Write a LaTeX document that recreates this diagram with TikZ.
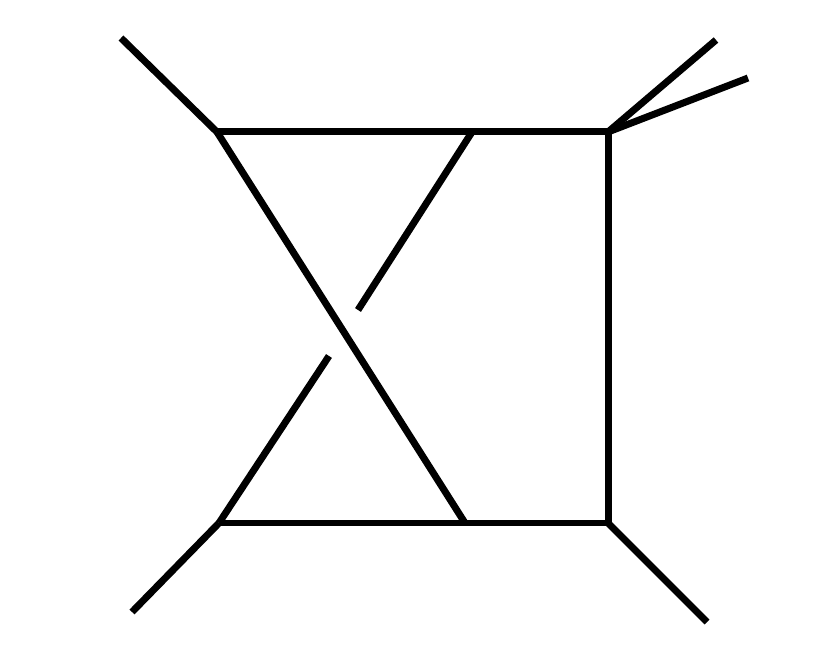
\documentclass[tikz,border=0pt]{standalone}
\usepackage{tikz}

\begin{document}
\begin{tikzpicture}[x=0.02cm,y=-0.02cm,line width=0.14cm]
  \useasboundingbox (0,0) rectangle (829,655);

  % vertices
  \coordinate (tl) at (217,132);
  \coordinate (tr) at (608,132);
  \coordinate (br) at (608,523);
  \coordinate (bl) at (219,523);
  \coordinate (tm) at (472,132);
  \coordinate (bm) at (465,523);

  % external legs
  \coordinate (p1) at (121,38);
  \coordinate (p2) at (716,40);
  \coordinate (p3) at (748,78);
  \coordinate (p4) at (132,612);
  \coordinate (p5) at (707,622);

  % gap in the crossing line
  \coordinate (g1) at (358,310);
  \coordinate (g2) at (329,356);

  \draw (tl) -- (tr) -- (br) -- (bl);
  \draw (tl) -- (bm);
  \draw (tm) -- (g1);
  \draw (g2) -- (bl);

  \draw (tl) -- (p1);
  \draw (tr) -- (p2);
  \draw (tr) -- (p3);
  \draw (bl) -- (p4);
  \draw (br) -- (p5);
\end{tikzpicture}
\end{document}
